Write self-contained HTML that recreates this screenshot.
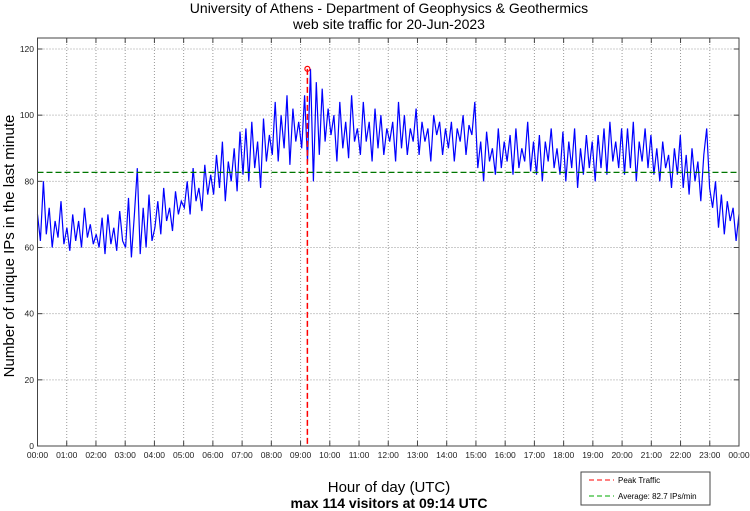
<!DOCTYPE html>
<html><head><meta charset="utf-8"><style>
body{margin:0;background:#fff;}
svg{display:block;font-family:"Liberation Sans",sans-serif;}
</style></head><body>
<svg id="chart" width="750" height="511">
<text x="389" y="13" text-anchor="middle" font-size="14">University of Athens - Department of Geophysics &amp; Geothermics</text>
<text x="389" y="29" text-anchor="middle" font-size="14">web site traffic for 20-Jun-2023</text>
<text transform="translate(14,246) rotate(-90)" text-anchor="middle" font-size="15">Number of unique IPs in the last minute</text>
<text x="389" y="492" text-anchor="middle" font-size="15">Hour of day (UTC)</text>
<text x="389" y="508" text-anchor="middle" font-size="14" font-weight="bold">max 114 visitors at 09:14 UTC</text>
<g id="grid"></g><g id="series"></g><g id="ann"></g><g id="axes"></g>
<g>
<rect x="581" y="472" width="129" height="33" fill="#fff" stroke="#444"/>
<line x1="589" y1="480" x2="614" y2="480" stroke="#f00" stroke-dasharray="5,3"/>
<text x="618" y="483" font-size="8">Peak Traffic</text>
<line x1="589" y1="496" x2="614" y2="496" stroke="#0a0" stroke-dasharray="5,3"/>
<text x="618" y="499" font-size="8">Average: 82.7 IPs/min</text>
</g>
</svg>
<script>
const hourLabels=["00:00","01:00","02:00","03:00","04:00","05:00","06:00","07:00","08:00","09:00","10:00","11:00","12:00","13:00","14:00","15:00","16:00","17:00","18:00","19:00","20:00","21:00","22:00","23:00","00:00"];
const yTicks=[0,20,40,60,80,100,120];
const averageValue=82.7;
const peakValue=114;
const peakHour=9+14/60;
// traffic sampled every 6 minutes (10 per hour)
const traffic=[
70,62,80,64,72,60,68,63,74,61, 66,59,70,62,68,60,72,63,67,61,
64,60,69,58,70,61,66,59,71,62, 60,75,57,70,84,58,72,60,76,62,
66,74,64,78,68,72,65,77,70,74, 72,80,70,84,74,78,71,85,76,82,
76,88,78,92,74,86,80,90,77,95, 82,96,80,98,84,92,78,99,86,94,
88,104,86,100,90,106,85,102,92,98, 90,106,86,114,80,110,88,108,92,102,
94,100,86,104,90,98,87,106,92,96, 88,104,92,98,86,102,90,100,88,96,
92,98,86,104,90,100,88,96,92,102, 88,98,92,96,86,100,94,98,88,96,
90,98,86,96,92,100,88,97,94,104, 84,92,80,95,86,90,82,96,84,92,
86,94,82,96,84,90,86,98,83,92, 82,94,80,92,86,96,84,90,82,95,
80,92,84,96,78,90,82,94,84,92, 80,94,84,96,82,98,86,92,84,96,
82,96,84,98,80,92,86,96,84,94, 82,90,80,92,84,88,78,90,82,94,
78,88,76,90,80,86,74,88,96,78, 72,80,66,76,64,74,68,72,62,70];
const avg=averageValue;
const L=37.5,R=739,T=38,B=446,NS="http://www.w3.org/2000/svg";
const xs=h=>L+h*(R-L)/24, ys=v=>B-v*(B-49)/120;
function mk(p,tag,at){const e=document.createElementNS(NS,tag);for(const k in at)e.setAttribute(k,at[k]);document.getElementById(p).appendChild(e);return e;}
hourLabels.forEach((lab,i)=>{const x=xs(i);
 if(i>0&&i<24){const g=mk('grid','line',{x1:x,y1:T,x2:x,y2:B,stroke:'#999','stroke-dasharray':'1,2'});
 
 }
 const t=mk('axes','text',{x:x,y:458,'font-size':8.5,'text-anchor':'middle',fill:'#222'});t.textContent=lab;
 
 
 mk('axes','line',{x1:x,y1:B,x2:x,y2:B-5,stroke:'#444'});mk('axes','line',{x1:x,y1:T,x2:x,y2:T+5,stroke:'#444'});});
yTicks.forEach(v=>{const y=ys(v);
 if(v>0){const g=mk('grid','line',{x1:L,y1:y,x2:R,y2:y,stroke:'#999','stroke-dasharray':'1,2'});
 
 }
 const t=mk('axes','text',{x:34,y:y+3,'font-size':8.5,'text-anchor':'end',fill:'#222'});t.textContent=v;
 
 
 mk('axes','line',{x1:L,y1:y,x2:L+5,y2:y,stroke:'#444'});mk('axes','line',{x1:R,y1:y,x2:R-5,y2:y,stroke:'#444'});});
const fr=mk('axes','rect',{x:L,y:T,width:R-L,height:B-T,fill:'none',stroke:'#444'});


const n=traffic.length;
const pts=traffic.map((v,i)=>xs(i*24/(n-1)).toFixed(1)+','+ys(v).toFixed(1)).join(' ');
const pl=mk('series','polyline',{points:pts,fill:'none',stroke:'#00f','stroke-width':1.2});


const al=mk('ann','line',{x1:L,y1:ys(avg),x2:R,y2:ys(avg),stroke:'#070','stroke-dasharray':'6,3','stroke-width':1.2});


const pk=mk('ann','line',{x1:xs(peakHour),y1:ys(peakValue),x2:xs(peakHour),y2:B,stroke:'#f00','stroke-dasharray':'6,3','stroke-width':1.5});


const pm=mk('ann','circle',{cx:xs(peakHour),cy:ys(peakValue),r:2.5,fill:'none',stroke:'#f00','stroke-width':1.2});


</script>
</body></html>
